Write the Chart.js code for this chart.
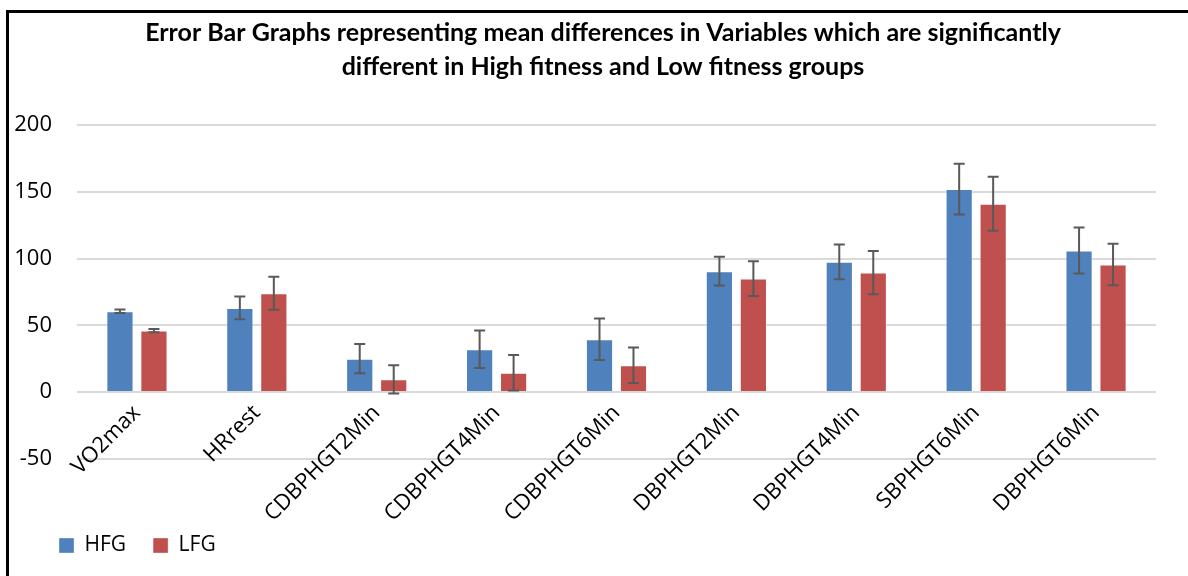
<!DOCTYPE html>
<html>
<head>
<meta charset="utf-8">
<script src="https://cdn.jsdelivr.net/npm/chart.js@4/dist/chart.umd.min.js"></script>
<style>
  html, body { margin: 0; padding: 0; background: #fff; overflow: hidden; }
  #wrap { position: relative; width: 1188px; height: 576px; overflow: hidden; }
  #frame { position: absolute; left: 6px; top: 10px; width: 1200px; height: 600px;
           border-left: 3px solid #000; border-top: 3px solid #000; pointer-events: none; }
  canvas { position: absolute; left: 0; top: 0; }
</style>
</head>
<body>
<div id="wrap">
  <canvas id="c" width="1200" height="576"></canvas>
  <div id="frame"></div>
</div>
<script>
const categories = ['VO2max', 'HRrest', 'CDBPHGT2Min', 'CDBPHGT4Min', 'CDBPHGT6Min',
                    'DBPHGT2Min', 'DBPHGT4Min', 'SBPHGT6Min', 'DBPHGT6Min'];
const hfgMeans  = [60.5, 63, 25, 32, 39.5, 90.5, 97.5, 152, 106];
const hfgErrors = [1.3, 8.5, 11, 14, 15.5, 10.8, 13, 19, 17.3];
const lfgMeans  = [46, 74, 9.5, 14.5, 20, 85, 89.5, 141, 95.5];
const lfgErrors = [1.3, 12.4, 10.5, 13.3, 13.3, 13, 16.2, 20.2, 15.6];
const yTickValues = [-50, 0, 50, 100, 150, 200];
const titleLines = ['Error Bar Graphs representing mean differences in Variables which are significantly',
                    'different in High fitness and Low fitness groups'];

const errorBarPlugin = {
  id: 'errorBars',
  afterDatasetsDraw(chart) {
    const ctx = chart.ctx;
    const y = chart.scales.y;
    ctx.save();
    ctx.strokeStyle = '#595959';
    ctx.lineWidth = 2;
    chart.data.datasets.forEach((ds, di) => {
      const meta = chart.getDatasetMeta(di);
      meta.data.forEach((bar, i) => {
        const v = ds.data[i], e = ds.errors[i];
        const top = y.getPixelForValue(v + e);
        const bot = y.getPixelForValue(v - e);
        const x = bar.x, cap = 5.5;
        ctx.beginPath();
        ctx.moveTo(x, top); ctx.lineTo(x, bot);
        ctx.moveTo(x - cap, top); ctx.lineTo(x + cap, top);
        ctx.moveTo(x - cap, bot); ctx.lineTo(x + cap, bot);
        ctx.stroke();
      });
    });
    ctx.restore();
  }
};

// move the legend row to start where the reference legend starts
const legendShift = {
  id: 'legendShift',
  afterLayout(chart) {
    if (chart.legend) { chart.legend.left += 20; chart.legend.right += 20; }
  }
};

new Chart(document.getElementById('c'), {
  type: 'bar',
  data: {
    labels: categories,
    datasets: [
      { label: 'HFG', data: hfgMeans, errors: hfgErrors, backgroundColor: '#4F81BD',
        borderColor: 'rgba(255,255,255,0.35)', borderWidth: 1,
        categoryPercentage: 0.567, barPercentage: 0.8 },
      { label: 'LFG', data: lfgMeans, errors: lfgErrors, backgroundColor: '#C0504D',
        borderColor: 'rgba(255,255,255,0.35)', borderWidth: 1,
        categoryPercentage: 0.567, barPercentage: 0.8 }
    ]
  },
  plugins: [errorBarPlugin, legendShift],
  options: {
    responsive: false,
    animation: false,
    layout: { padding: { left: 12, right: 6, top: 10, bottom: 10 } },
    plugins: {
      title: {
        display: true,
        text: titleLines,
        color: '#000',
        font: { family: 'Lato', size: 25, weight: 'bold', lineHeight: 1.36 },
        padding: { top: 6, bottom: 41 }
      },
      legend: {
        position: 'bottom',
        align: 'start',
        title: { display: true, text: '', font: { size: 1 }, padding: { top: 48, bottom: 0 } },
        labels: {
          boxWidth: 15, boxHeight: 15, padding: 27,
          color: '#000',
          font: { family: 'Open Sans', size: 21 }
        }
      },
      tooltip: { enabled: false }
    },
    scales: {
      x: {
        position: { y: 0 },
        grid: { display: false },
        border: { display: false },
        ticks: {
          autoSkip: false, minRotation: 45, maxRotation: 45, padding: 0,
          color: '#000', font: { family: 'Open Sans', size: 22 }
        }
      },
      y: {
        min: -50, max: 200,
        afterBuildTicks: (s) => { s.ticks = yTickValues.map(v => ({ value: v })); },
        afterFit: (s) => { s.width = 65; },
        grid: { color: '#d9d9d9', lineWidth: 2, drawTicks: false },
        border: { display: false },
        ticks: { padding: 25, color: '#000', font: { family: 'Open Sans', size: 22 } }
      },
      y2: {
        position: 'right',
        display: true,
        grid: { display: false },
        border: { display: false },
        ticks: { display: false },
        afterFit: (s) => { s.width = 38; }
      }
    }
  }
});
</script>
</body>
</html>
